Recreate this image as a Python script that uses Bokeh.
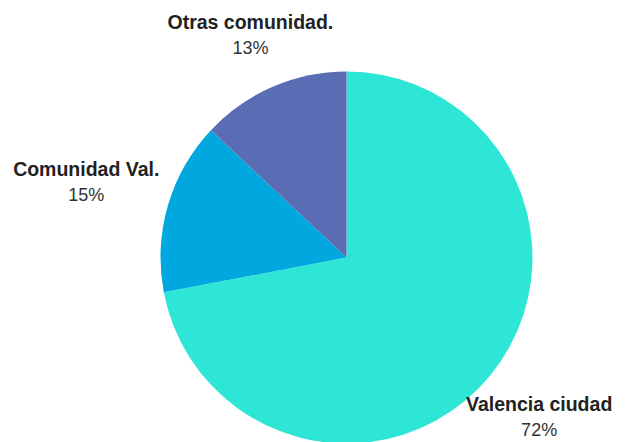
import math
from bokeh.plotting import figure
from bokeh.models import Range1d, ColumnDataSource
from bokeh.core.properties import value
from bokeh.embed import file_html
from bokeh.resources import INLINE

# Data
categories = ["Valencia ciudad", "Comunidad Val.", "Otras comunidad."]
shares = [72, 15, 13]
pct_labels = ["72%", "15%", "13%"]
colors = ["#2EE6D6", "#00A8DF", "#5A6CB4"]

# Layout (pixel-like data units, y up)
W, H = 635, 442
cx, cy, r = 346, 185, 186
label_dist = [250, 271, 242]

total = float(sum(shares))
starts, ends, mids = [], [], []
cum = 0.0
for s in shares:
    a0 = math.pi / 2 - 2 * math.pi * (cum + s) / total
    a1 = math.pi / 2 - 2 * math.pi * cum / total
    starts.append(a0)
    ends.append(a1)
    mids.append((a0 + a1) / 2)
    cum += s

src = ColumnDataSource(dict(start=starts, end=ends, color=colors, cat=categories))

p = figure(width=W, height=H, output_backend="svg", toolbar_location=None,
           x_range=Range1d(0, W), y_range=Range1d(0, H), min_border=0,
           outline_line_color=None)
p.axis.visible = False
p.grid.visible = False
p.background_fill_color = "white"

p.wedge(x=cx, y=cy, radius=r, start_angle="start", end_angle="end",
        fill_color="color", line_color=None, source=src)

lx = [cx + d * math.cos(m) for d, m in zip(label_dist, mids)]
ly = [cy + d * math.sin(m) for d, m in zip(label_dist, mids)]

p.text(x=lx, y=[y + 13 for y in ly], text=categories,
       text_font=value("Liberation Sans"), text_font_style="bold",
       text_font_size="19.5px", text_color="#222222",
       text_align="center", text_baseline="middle")
p.text(x=lx, y=[y - 13 for y in ly], text=pct_labels,
       text_font=value("Liberation Sans"), text_font_size="18px",
       text_color="#333333", text_align="center", text_baseline="middle")

open("out.html", "w").write(file_html(p, INLINE))
